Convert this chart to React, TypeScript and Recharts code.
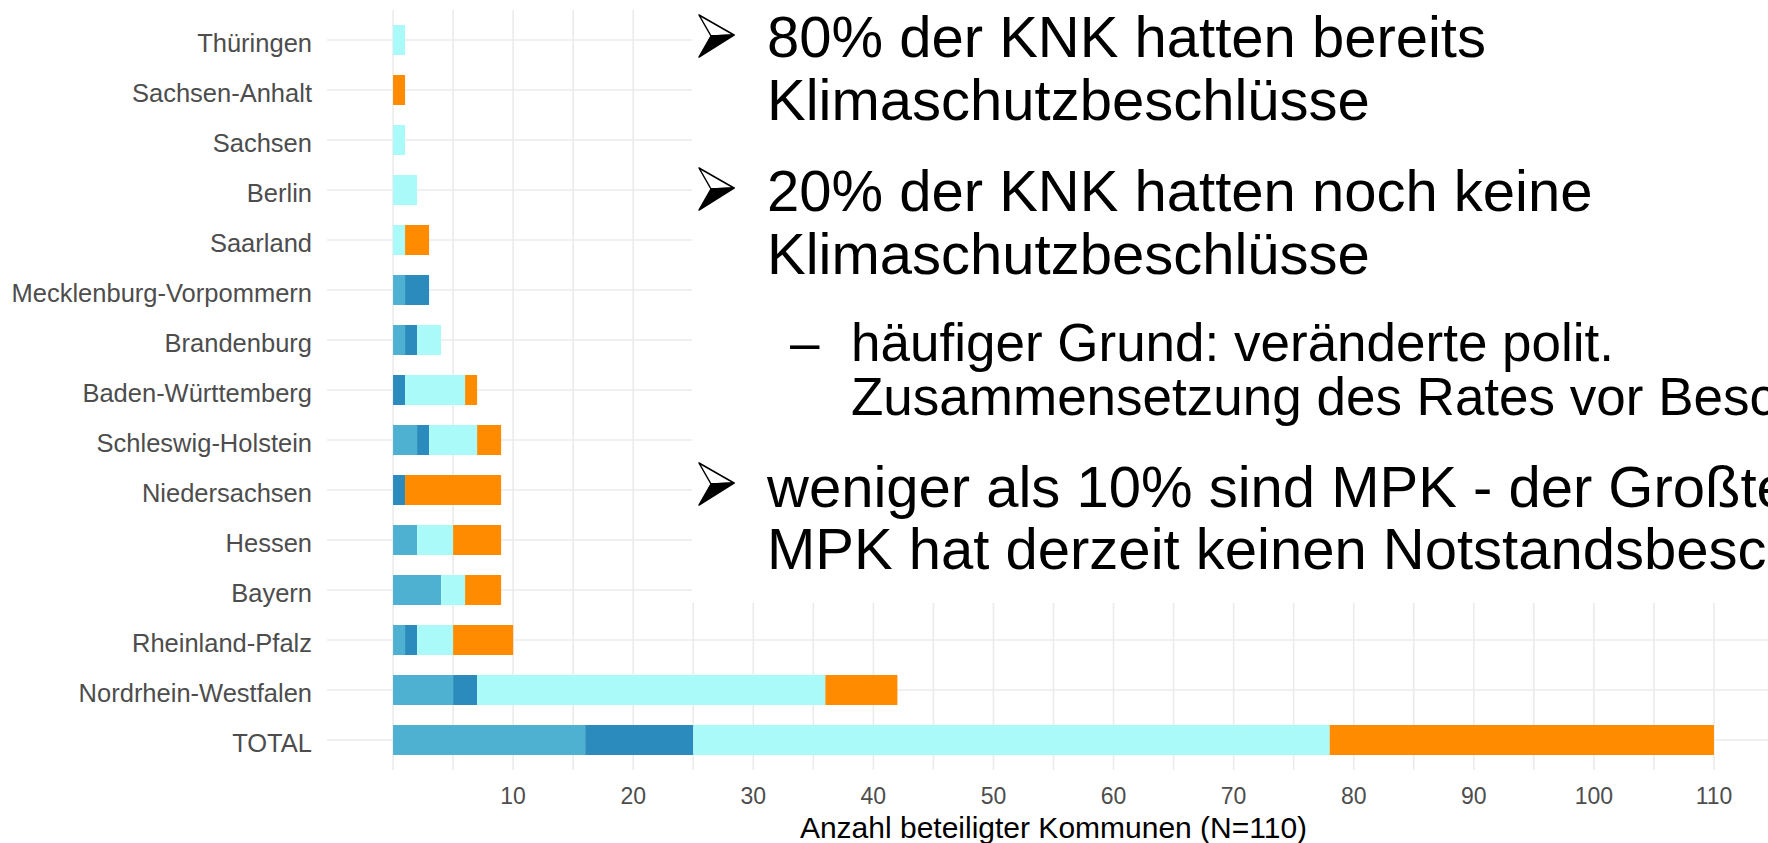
import { Bar, BarChart, CartesianGrid, XAxis, YAxis } from "recharts";

// Bundeslaender, von oben nach unten
const states = [
  "Thüringen",
  "Sachsen-Anhalt",
  "Sachsen",
  "Berlin",
  "Saarland",
  "Mecklenburg-Vorpommern",
  "Brandenburg",
  "Baden-Württemberg",
  "Schleswig-Holstein",
  "Niedersachsen",
  "Hessen",
  "Bayern",
  "Rheinland-Pfalz",
  "Nordrhein-Westfalen",
  "TOTAL"
];

// Anzahl Kommunen je Gruppe (Reihenfolge wie states)
const gruppeA = [0, 0, 0, 0, 0, 1, 1, 0, 2, 0, 2, 4, 1, 5, 16];
const gruppeB = [0, 0, 0, 0, 0, 2, 1, 1, 1, 1, 0, 0, 1, 2, 9];
const gruppeC = [1, 0, 1, 2, 1, 0, 2, 5, 4, 0, 3, 2, 3, 29, 53];
const gruppeD = [0, 1, 0, 0, 2, 0, 0, 1, 2, 8, 4, 3, 5, 6, 32];

const gridValues = [0, 5, 10, 15, 20, 25, 30, 35, 40, 45, 50, 55, 60, 65, 70, 75, 80, 85, 90, 95, 100, 105, 110];
const tickLabels = [10, 20, 30, 40, 50, 60, 70, 80, 90, 100, 110];

const data = states.map((state, i) => ({
  state,
  gruppeA: gruppeA[i],
  gruppeB: gruppeB[i],
  gruppeC: gruppeC[i],
  gruppeD: gruppeD[i]
}));

const FONT = "'Liberation Sans', Arial, Helvetica, sans-serif";
const AXIS_GREY = "#4d4d4d";

const StateTick = ({ x, y, payload }: any) => (
  <text
    x={x}
    y={y}
    dy={11.5}
    textAnchor="end"
    fontSize={25.5}
    fill={AXIS_GREY}
    fontFamily={FONT}
  >
    {payload.value}
  </text>
);

const CountTick = ({ x, y, payload }: any) =>
  tickLabels.includes(payload.value) ? (
    <text
      x={x}
      y={y}
      dy={34}
      textAnchor="middle"
      fontSize={23}
      fill={AXIS_GREY}
      fontFamily={FONT}
    >
      {payload.value}
    </text>
  ) : (
    <g />
  );

const AxisTitle = ({ viewBox }: any) => (
  <text
    x={viewBox.x + viewBox.width / 2 + 6}
    y={viewBox.y + 68}
    textAnchor="middle"
    fontSize={30}
    fill="#000"
    fontFamily={FONT}
  >
    Anzahl beteiligter Kommunen (N=110)
  </text>
);

const Arrow = ({ y }: { y: number }) => (
  <g transform={`translate(7, ${y})`}>
    <polygon points="0,0 35,20 12,21" fill="#fff" stroke="#000" strokeWidth={1.5} strokeLinejoin="round" />
    <polygon points="12,21 35,20 0,42" fill="#000" stroke="#000" strokeWidth={1.5} strokeLinejoin="round" />
  </g>
);

const Notes = () => (
  <svg
    width={1076}
    height={603}
    style={{ position: "absolute", left: 692, top: 0, background: "#fff" }}
  >
    <g fontFamily={FONT} fill="#000">
      <Arrow y={15} />
      <text x={75} y={57} fontSize={58}>80% der KNK hatten bereits</text>
      <text x={75} y={120} fontSize={58}>Klimaschutzbeschlüsse</text>

      <Arrow y={168} />
      <text x={75} y={211} fontSize={58}>20% der KNK hatten noch keine</text>
      <text x={75} y={274} fontSize={58}>Klimaschutzbeschlüsse</text>

      <text x={98} y={361} fontSize={53}>–</text>
      <text x={159} y={361} fontSize={53}>häufiger Grund: veränderte polit.</text>
      <text x={159} y={415} fontSize={53}>Zusammensetzung des Rates vor Beschluss</text>

      <Arrow y={463} />
      <text x={75} y={507} fontSize={58}>weniger als 10% sind MPK - der Großteil der</text>
      <text x={75} y={569} fontSize={58}>MPK hat derzeit keinen Notstandsbeschluss</text>
    </g>
  </svg>
);

export default function App() {
  return (
    <div
      style={{
        position: "absolute",
        left: 0,
        top: 0,
        width: 1768,
        height: 843,
        background: "#fff",
        overflow: "hidden"
      }}
    >
      <BarChart
        width={1768}
        height={843}
        data={data}
        layout="vertical"
        margin={{ top: 10, right: 0, bottom: 0, left: 0 }}
      >
        <CartesianGrid stroke="#ebebeb" strokeWidth={1.6} syncWithTicks />
        <XAxis
          type="number"
          domain={[-5.5, 114.5]}
          allowDataOverflow
          ticks={gridValues}
          interval={0}
          axisLine={false}
          tickLine={false}
          tickSize={0}
          tickMargin={0}
          height={73}
          tick={CountTick}
          label={<AxisTitle />}
        />
        <YAxis
          type="category"
          dataKey="state"
          width={327}
          axisLine={false}
          tickLine={false}
          tickSize={0}
          tickMargin={15}
          interval={0}
          padding={{ top: 5, bottom: 5 }}
          tick={StateTick}
        />
        <Bar dataKey="gruppeA" stackId="s" fill="#4eb1d2" barSize={30} isAnimationActive={false} />
        <Bar dataKey="gruppeB" stackId="s" fill="#2b8bbd" barSize={30} isAnimationActive={false} />
        <Bar dataKey="gruppeC" stackId="s" fill="#abfafa" barSize={30} isAnimationActive={false} />
        <Bar dataKey="gruppeD" stackId="s" fill="#ff8c00" barSize={30} isAnimationActive={false} />
      </BarChart>
      <Notes />
    </div>
  );
}
